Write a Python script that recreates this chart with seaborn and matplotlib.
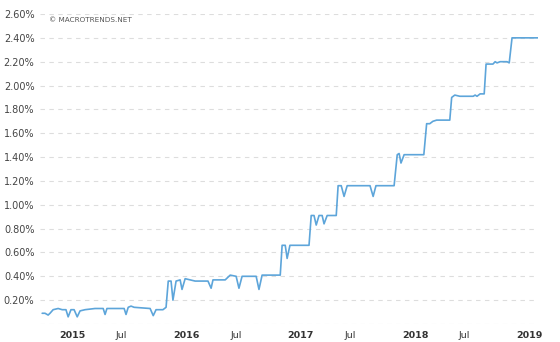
import matplotlib
matplotlib.use("Agg")
import matplotlib.pyplot as plt
import matplotlib.dates as mdates
import matplotlib.transforms as mtransforms
import seaborn as sns
import pandas as pd

dates = [
    "2014-11-08", "2014-11-17", "2014-11-27", "2014-12-03", "2014-12-13", "2014-12-29",
    "2015-01-11", "2015-01-23", "2015-01-30", "2015-02-08", "2015-02-18", "2015-02-28",
    "2015-03-09", "2015-03-25", "2015-04-26", "2015-05-22", "2015-05-28", "2015-06-03",
    "2015-07-28", "2015-08-03", "2015-08-10", "2015-08-19", "2015-08-29", "2015-10-19",
    "2015-10-29", "2015-11-07", "2015-11-29", "2015-12-09", "2015-12-16", "2015-12-25",
    "2015-12-31", "2016-01-10", "2016-01-23", "2016-01-29", "2016-02-08", "2016-02-24",
    "2016-03-11", "2016-04-21", "2016-05-01", "2016-05-07", "2016-06-15", "2016-07-01",
    "2016-07-20", "2016-07-29", "2016-08-08", "2016-09-22", "2016-10-01", "2016-10-11",
    "2016-12-08", "2016-12-14", "2016-12-24", "2016-12-30", "2017-01-08", "2017-03-10",
    "2017-03-17", "2017-03-26", "2017-04-02", "2017-04-11", "2017-04-21", "2017-04-27",
    "2017-05-07", "2017-06-05", "2017-06-11", "2017-06-21", "2017-06-30", "2017-07-10",
    "2017-09-21", "2017-10-01", "2017-10-10", "2017-12-07", "2017-12-17", "2017-12-23",
    "2017-12-29", "2018-01-08", "2018-03-12", "2018-03-21", "2018-03-31", "2018-04-10",
    "2018-04-22", "2018-06-03", "2018-06-09", "2018-06-19", "2018-07-05", "2018-08-17",
    "2018-08-23", "2018-08-29", "2018-09-08", "2018-09-21", "2018-09-27", "2018-10-19",
    "2018-10-26", "2018-11-01", "2018-11-11", "2018-12-03", "2018-12-10", "2018-12-19",
    "2019-03-12",
]
rates = [
    0.09, 0.09, 0.075, 0.09, 0.12, 0.13,
    0.12, 0.12, 0.06, 0.12, 0.12, 0.06,
    0.11, 0.12, 0.13, 0.13, 0.08, 0.13,
    0.13, 0.08, 0.14, 0.15, 0.14, 0.13,
    0.07, 0.12, 0.12, 0.14, 0.36, 0.36,
    0.20, 0.36, 0.37, 0.29, 0.38, 0.37,
    0.36, 0.36, 0.30, 0.37, 0.37, 0.41,
    0.40, 0.30, 0.40, 0.40, 0.29, 0.41,
    0.41, 0.66, 0.66, 0.55, 0.66, 0.66,
    0.91, 0.91, 0.83, 0.91, 0.91, 0.84,
    0.91, 0.91, 1.16, 1.16, 1.07, 1.16,
    1.16, 1.07, 1.16, 1.16, 1.42, 1.43,
    1.35, 1.42, 1.42, 1.68, 1.68, 1.70,
    1.71, 1.71, 1.90, 1.92, 1.91, 1.91,
    1.92, 1.91, 1.93, 1.93, 2.18, 2.18,
    2.20, 2.19, 2.20, 2.20, 2.19, 2.40,
    2.40,
]

y_ticks = [0.0, 0.2, 0.4, 0.6, 0.8, 1.0, 1.2, 1.4, 1.6, 1.8, 2.0, 2.2, 2.4, 2.6]
x_tick_dates = ["2015-01-01", "2015-07-01", "2016-01-01", "2016-07-01", "2017-01-01",
                "2017-07-01", "2018-01-01", "2018-07-01", "2019-01-01"]
x_tick_labels = ["2015", "Jul", "2016", "Jul", "2017", "Jul", "2018", "Jul", "2019"]

df = pd.DataFrame({"date": pd.to_datetime(dates), "rate": rates})

sns.set_style("white")
plt.rcParams["font.family"] = ["DejaVu Sans"]

fig = plt.figure(figsize=(5.6, 3.42), dpi=100)
ax = fig.add_axes([40 / 560, 18 / 342, 498 / 560, 310 / 342])

sns.lineplot(data=df, x="date", y="rate", ax=ax, color="#5DA5DA", linewidth=1.2)

ax.set_xlim(pd.Timestamp("2014-11-01"), pd.Timestamp("2019-03-12"))
ax.set_ylim(0, 2.6)

for v in y_ticks:
    ax.axhline(v, color="#dddddd", linewidth=0.8, linestyle=(0, (4, 4)), zorder=0)

ax.set_yticks(y_ticks)
ax.set_yticklabels(["" if v == 0 else f"{v:.2f}%" for v in y_ticks],
                   fontsize=7, color="#444444")
ax.set_xticks(pd.to_datetime(x_tick_dates))
ax.set_xticklabels(x_tick_labels, fontsize=6.8, color="#333333")
offset = mtransforms.ScaledTranslation(3 / 100, 0, fig.dpi_scale_trans)
for lab in ax.get_xticklabels():
    lab.set_horizontalalignment("left")
    lab.set_transform(lab.get_transform() + offset)
    if lab.get_text() != "Jul":
        lab.set_fontweight("bold")

ax.tick_params(axis="both", length=0)
ax.tick_params(axis="y", pad=4)
ax.tick_params(axis="x", pad=5)
ax.set_xlabel("")
ax.set_ylabel("")
for s in ax.spines.values():
    s.set_visible(False)

fig.text(49 / 560, 1 - 20 / 342, "© MACROTRENDS.NET", fontsize=5.2, color="#555555",
         va="center", ha="left")

fig.savefig("out.png", dpi=100)
